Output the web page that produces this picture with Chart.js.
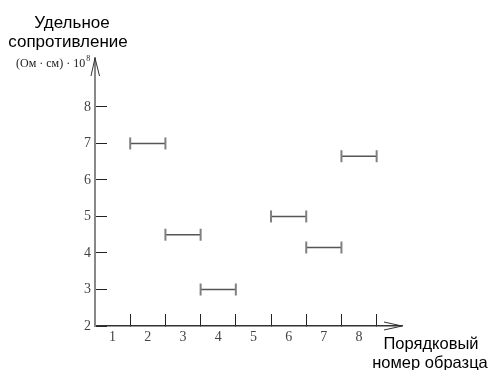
<!DOCTYPE html>
<html>
<head>
<meta charset="utf-8">
<script src="https://cdn.jsdelivr.net/npm/chart.js@4.4.1/dist/chart.umd.min.js"></script>
<style>
  html, body { margin: 0; padding: 0; background: #fff; }
  #wrap { width: 489px; height: 370px; }
</style>
</head>
<body>
<div id="wrap"><canvas id="chart"></canvas></div>
<script>
// Номер образца и удельное сопротивление
const samples = [2, 3, 4, 6, 7, 8];
const resistivity = [7.0, 4.5, 3.0, 5.0, 4.15, 6.65];

// Подписи осей
const sampleLabels = ["1", "2", "3", "4", "5", "6", "7", "8"];
const yTicks = [2, 3, 4, 5, 6, 7, 8];

const yTitle = ["Удельное", "сопротивление"];
const yUnit = "(Ом · см) · 10";
const xTitle = ["Порядковый", "номер образца"];

// каждый образец - отрезок от (n-1) до n
const datasets = samples.map((s, i) => ({
  data: [{ x: s - 1, y: resistivity[i] }, { x: s, y: resistivity[i] }],
  borderColor: "#555",
  borderWidth: 1.5,
  pointStyle: "line",
  rotation: 90,
  pointRadius: 6,
  pointBorderColor: "#808080",
  pointBorderWidth: 2,
  fill: false
}));

// стрелки и подписи
const decorPlugin = {
  id: "decor",
  afterDraw(chart) {
    const ctx = chart.ctx;
    const a = chart.chartArea;
    ctx.save();
    ctx.strokeStyle = "#333";
    ctx.lineWidth = 1;
    ctx.beginPath();
    ctx.moveTo(a.left - 4, a.top + 18);
    ctx.lineTo(a.left, a.top);
    ctx.lineTo(a.left + 4.5, a.top + 18);
    ctx.moveTo(a.right - 18, a.bottom - 4);
    ctx.lineTo(a.right, a.bottom);
    ctx.lineTo(a.right - 18, a.bottom + 4);
    ctx.stroke();

    ctx.fillStyle = "#000";
    ctx.font = '17px "Liberation Sans"';
    ctx.textAlign = "center";
    ctx.textBaseline = "alphabetic";
    ctx.fillText(yTitle[0], 72, 28);
    ctx.fillText(yTitle[1], 68, 47);
    ctx.font = '16.5px "Liberation Sans"';
    ctx.fillText(xTitle[0], 431, 349);
    ctx.fillText(xTitle[1], 430, 368);

    ctx.fillStyle = "#222";
    ctx.textAlign = "left";
    ctx.font = '12px "Liberation Serif"';
    ctx.fillText(yUnit, 16, 67);
    const w = ctx.measureText(yUnit).width;
    ctx.font = '8px "Liberation Serif"';
    ctx.fillText("8", 16 + w + 1, 61);
    ctx.restore();
  }
};

new Chart(document.getElementById("chart"), {
  type: "line",
  data: { datasets: datasets },
  options: {
    responsive: true,
    maintainAspectRatio: false,
    animation: false,
    events: [],
    layout: { padding: { top: 58, right: 87, left: 0, bottom: 0 } },
    plugins: { legend: { display: false }, tooltip: { enabled: false } },
    scales: {
      x: {
        type: "linear",
        min: 0,
        max: 8.72,
        afterBuildTicks: s => { s.ticks = sampleLabels.map((l, i) => ({ value: i + 0.5 })); },
        afterFit: s => { s.height = 44; },
        ticks: {
          callback: (v, i) => sampleLabels[i],
          autoSkip: false,
          maxRotation: 0,
          padding: 15,
          color: "#444",
          font: { family: "Liberation Serif", size: 14 }
        },
        grid: { offset: true, drawOnChartArea: false, tickLength: -12, color: "#222", lineWidth: 1 },
        border: { color: "#333", width: 1.5 }
      },
      y: {
        min: 2,
        max: 9.34,
        afterBuildTicks: s => { s.ticks = yTicks.map(v => ({ value: v })); },
        afterFit: s => { s.width = 95; },
        ticks: {
          padding: 16,
          color: "#444",
          font: { family: "Liberation Serif", size: 14 }
        },
        grid: { drawOnChartArea: false, tickLength: -12, color: "#222", lineWidth: 1 },
        border: { color: "#888", width: 2 }
      }
    }
  },
  plugins: [decorPlugin]
});
</script>
</body>
</html>
